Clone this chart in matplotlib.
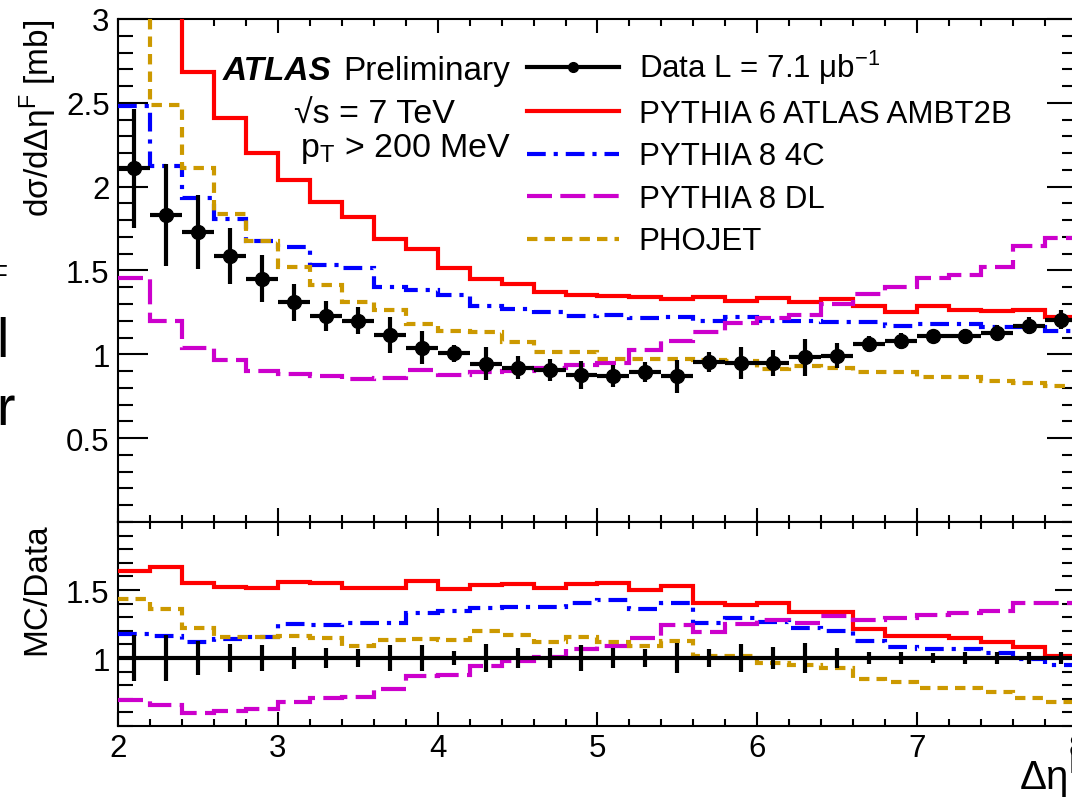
import numpy as np
import matplotlib
matplotlib.use("Agg")
import matplotlib.pyplot as plt
from matplotlib.lines import Line2D
from matplotlib.ticker import MultipleLocator

plt.rcParams['font.family'] = ['Liberation Sans', 'DejaVu Sans']
plt.rcParams['mathtext.fontset'] = 'custom'
plt.rcParams['mathtext.rm'] = 'Liberation Sans'
plt.rcParams['mathtext.it'] = 'Liberation Sans:italic'
plt.rcParams['mathtext.bf'] = 'Liberation Sans:bold'

# bins of delta eta^F, width 0.2 from 2 to 8
bin_edges = np.round(np.linspace(2.0, 8.0, 31), 1)
bin_centers = 0.5 * (bin_edges[:-1] + bin_edges[1:])

data = [2.11, 1.83, 1.73, 1.585, 1.45, 1.31, 1.23, 1.20, 1.115, 1.04,
        1.005, 0.945, 0.92, 0.908, 0.877, 0.869, 0.895, 0.869, 0.952, 0.948,
        0.948, 0.982, 0.992, 1.061, 1.081, 1.107, 1.107, 1.127, 1.171, 1.206]
data_err = [0.355, 0.305, 0.22, 0.166, 0.14, 0.11, 0.09, 0.08, 0.105, 0.10,
            0.05, 0.10, 0.068, 0.065, 0.085, 0.065, 0.06, 0.097, 0.06, 0.097,
            0.077, 0.11, 0.073, 0.047, 0.047, 0.04, 0.047, 0.047, 0.05, 0.056]

pythia6_ambt2b = [3.46, 3.05, 2.685, 2.407, 2.198, 2.039, 1.906, 1.817, 1.688, 1.628,
                  1.513, 1.449, 1.419, 1.373, 1.354, 1.346, 1.340, 1.330, 1.340, 1.320,
                  1.333, 1.315, 1.328, 1.288, 1.255, 1.288, 1.266, 1.258, 1.263, 1.222]
pythia8_4c = [2.483, 2.125, 1.93, 1.81, 1.678, 1.642, 1.533, 1.513, 1.40, 1.385,
              1.354, 1.29, 1.268, 1.25, 1.23, 1.237, 1.215, 1.223, 1.20, 1.225,
              1.20, 1.20, 1.19, 1.19, 1.171, 1.18, 1.18, 1.165, 1.161, 1.141]
pythia8_dl = [1.455, 1.197, 1.035, 0.964, 0.902, 0.884, 0.872, 0.853, 0.858, 0.905,
              0.878, 0.893, 0.90, 0.918, 0.935, 0.948, 1.028, 1.078, 1.133, 1.185,
              1.215, 1.232, 1.30, 1.36, 1.40, 1.458, 1.475, 1.52, 1.648, 1.695]
phojet = [3.02, 2.49, 2.11, 1.835, 1.675, 1.52, 1.412, 1.31, 1.262, 1.183,
          1.138, 1.135, 1.075, 1.013, 1.013, 0.972, 0.972, 0.975, 0.965, 0.962,
          0.915, 0.93, 0.92, 0.895, 0.893, 0.863, 0.863, 0.843, 0.829, 0.813]

mc_names = ["PYTHIA 6 ATLAS AMBT2B", "PYTHIA 8 4C", "PYTHIA 8 DL", "PHOJET"]
mc_values = [pythia6_ambt2b, pythia8_4c, pythia8_dl, phojet]
mc_colors = ["#ff0000", "#0000ff", "#cc00cc", "#cc9900"]
mc_styles = ["-", (0, (4.5, 1.9, 1.0, 1.9)), (0, (6.0, 2.0)), (0, (2.5, 1.7))]
data_label = r"Data L = 7.1 μb$^{\mathregular{-1}}$"

LW = 3.0

fig = plt.figure(figsize=(10.72, 8.03), dpi=100)
ax = fig.add_axes([0.110, 0.3487, 0.8947, 0.6264])
axr = fig.add_axes([0.110, 0.0946, 0.8947, 0.2541])


def root_style(a, ymaj, ymin, xmaj, xmin):
    for s in a.spines.values():
        s.set_linewidth(1.5)
    a.tick_params(which='both', direction='in', top=True, right=True,
                  width=1.5, labelsize=22.5, colors='k')
    a.tick_params(axis='y', which='major', length=ymaj, pad=6)
    a.tick_params(axis='y', which='minor', length=ymin)
    a.tick_params(axis='x', which='major', length=xmaj, pad=5)
    a.tick_params(axis='x', which='minor', length=xmin)
    a.xaxis.set_minor_locator(MultipleLocator(0.2))
    a.yaxis.set_minor_locator(MultipleLocator(0.1))
    a.set_xlim(2, 8)


# ---- main panel
for vals, name, col, ls in zip(mc_values, mc_names, mc_colors, mc_styles):
    ax.stairs(vals, bin_edges, baseline=None, color=col, lw=LW, ls=ls, zorder=3)
ax.errorbar(bin_centers, data, xerr=0.1, yerr=data_err, fmt='o', color='k',
            ms=10, elinewidth=LW, capsize=0, zorder=5)

root_style(ax, 21.6, 10.8, 10, 5)
ax.set_ylim(0, 3)
ax.set_yticks([0.5, 1, 1.5, 2, 2.5, 3])
ax.set_yticklabels(['0.5', '1', '1.5', '2', '2.5', '3'])
ax.set_xticks([2, 3, 4, 5, 6, 7, 8])
ax.tick_params(axis='x', labelbottom=False)

handles = [Line2D([], [], color='k', lw=LW, marker='o', ms=7)]
for name, col, ls in zip(mc_names, mc_colors, mc_styles):
    handles.append(Line2D([], [], color=col, lw=LW, ls=ls))
ax.legend(handles, [data_label] + mc_names, loc='upper left',
          bbox_to_anchor=(0.4265, 0.942), frameon=False, fontsize=22.5,
          handlelength=2.95, handletextpad=0.62, labelspacing=0.4,
          borderpad=0, borderaxespad=0)

ax.text(0.1095, 0.881, "ATLAS", transform=ax.transAxes, fontsize=24,
        fontweight='bold', fontstyle='italic', ha='left', va='baseline')
ax.text(0.235, 0.881, "Preliminary", transform=ax.transAxes, fontsize=24,
        ha='left', va='baseline')
ax.text(0.1835, 0.793, "√s = 7 TeV", transform=ax.transAxes, fontsize=24.5,
        ha='left', va='baseline')
ax.text(0.190, 0.727, r"p$_{\mathregular{T}}$ > 200 MeV", transform=ax.transAxes,
        fontsize=24.5, ha='left', va='baseline')

# ---- ratio panel
ones = np.ones(len(data))
ratio_err = np.array(data_err) / np.array(data)
for vals, col, ls in zip(mc_values, mc_colors, mc_styles):
    axr.stairs(np.array(vals) / np.array(data), bin_edges, baseline=None,
               color=col, lw=LW, ls=ls, zorder=3)
axr.errorbar(bin_centers, ones, xerr=0.1, yerr=ratio_err, fmt='none',
             ecolor='k', elinewidth=LW, capsize=0, zorder=5)

root_style(axr, 16, 10.8, 10, 5)
axr.set_ylim(0.5, 2.0)
axr.set_yticks([1, 1.5])
axr.set_yticklabels(['1', '1.5'])
axr.set_xticks([2, 3, 4, 5, 6, 7, 8])
axr.set_xticklabels(['2', '3', '4', '5', '6', '7', '8'])

fig.text(38 / 1072, 1 - 20 / 803, r"dσ/dΔη$^{\mathregular{F}}$ [mb]", rotation=90,
         fontsize=24, ha='center', va='top')
fig.text(37 / 1072, 1 - 523 / 803, "MC/Data", rotation=90, fontsize=24,
         ha='center', va='top')
fig.text(1087 / 1072, 1 - 799 / 803, r"Δη$^{\mathregular{F}}$", fontsize=29,
         ha='right', va='bottom')

# bits of neighbouring text cut by the left edge
fig.text(-9 / 1072, 1 - 277 / 803, "F", fontsize=20, ha='left', va='center')
fig.text(-4 / 1072, 1 - 343 / 803, "l", fontsize=40, ha='left', va='center')
fig.text(-4 / 1072, 1 - 425 / 803, "r", fontsize=40, ha='left', va='baseline')

fig.savefig("out.png", dpi=100, facecolor='white')
